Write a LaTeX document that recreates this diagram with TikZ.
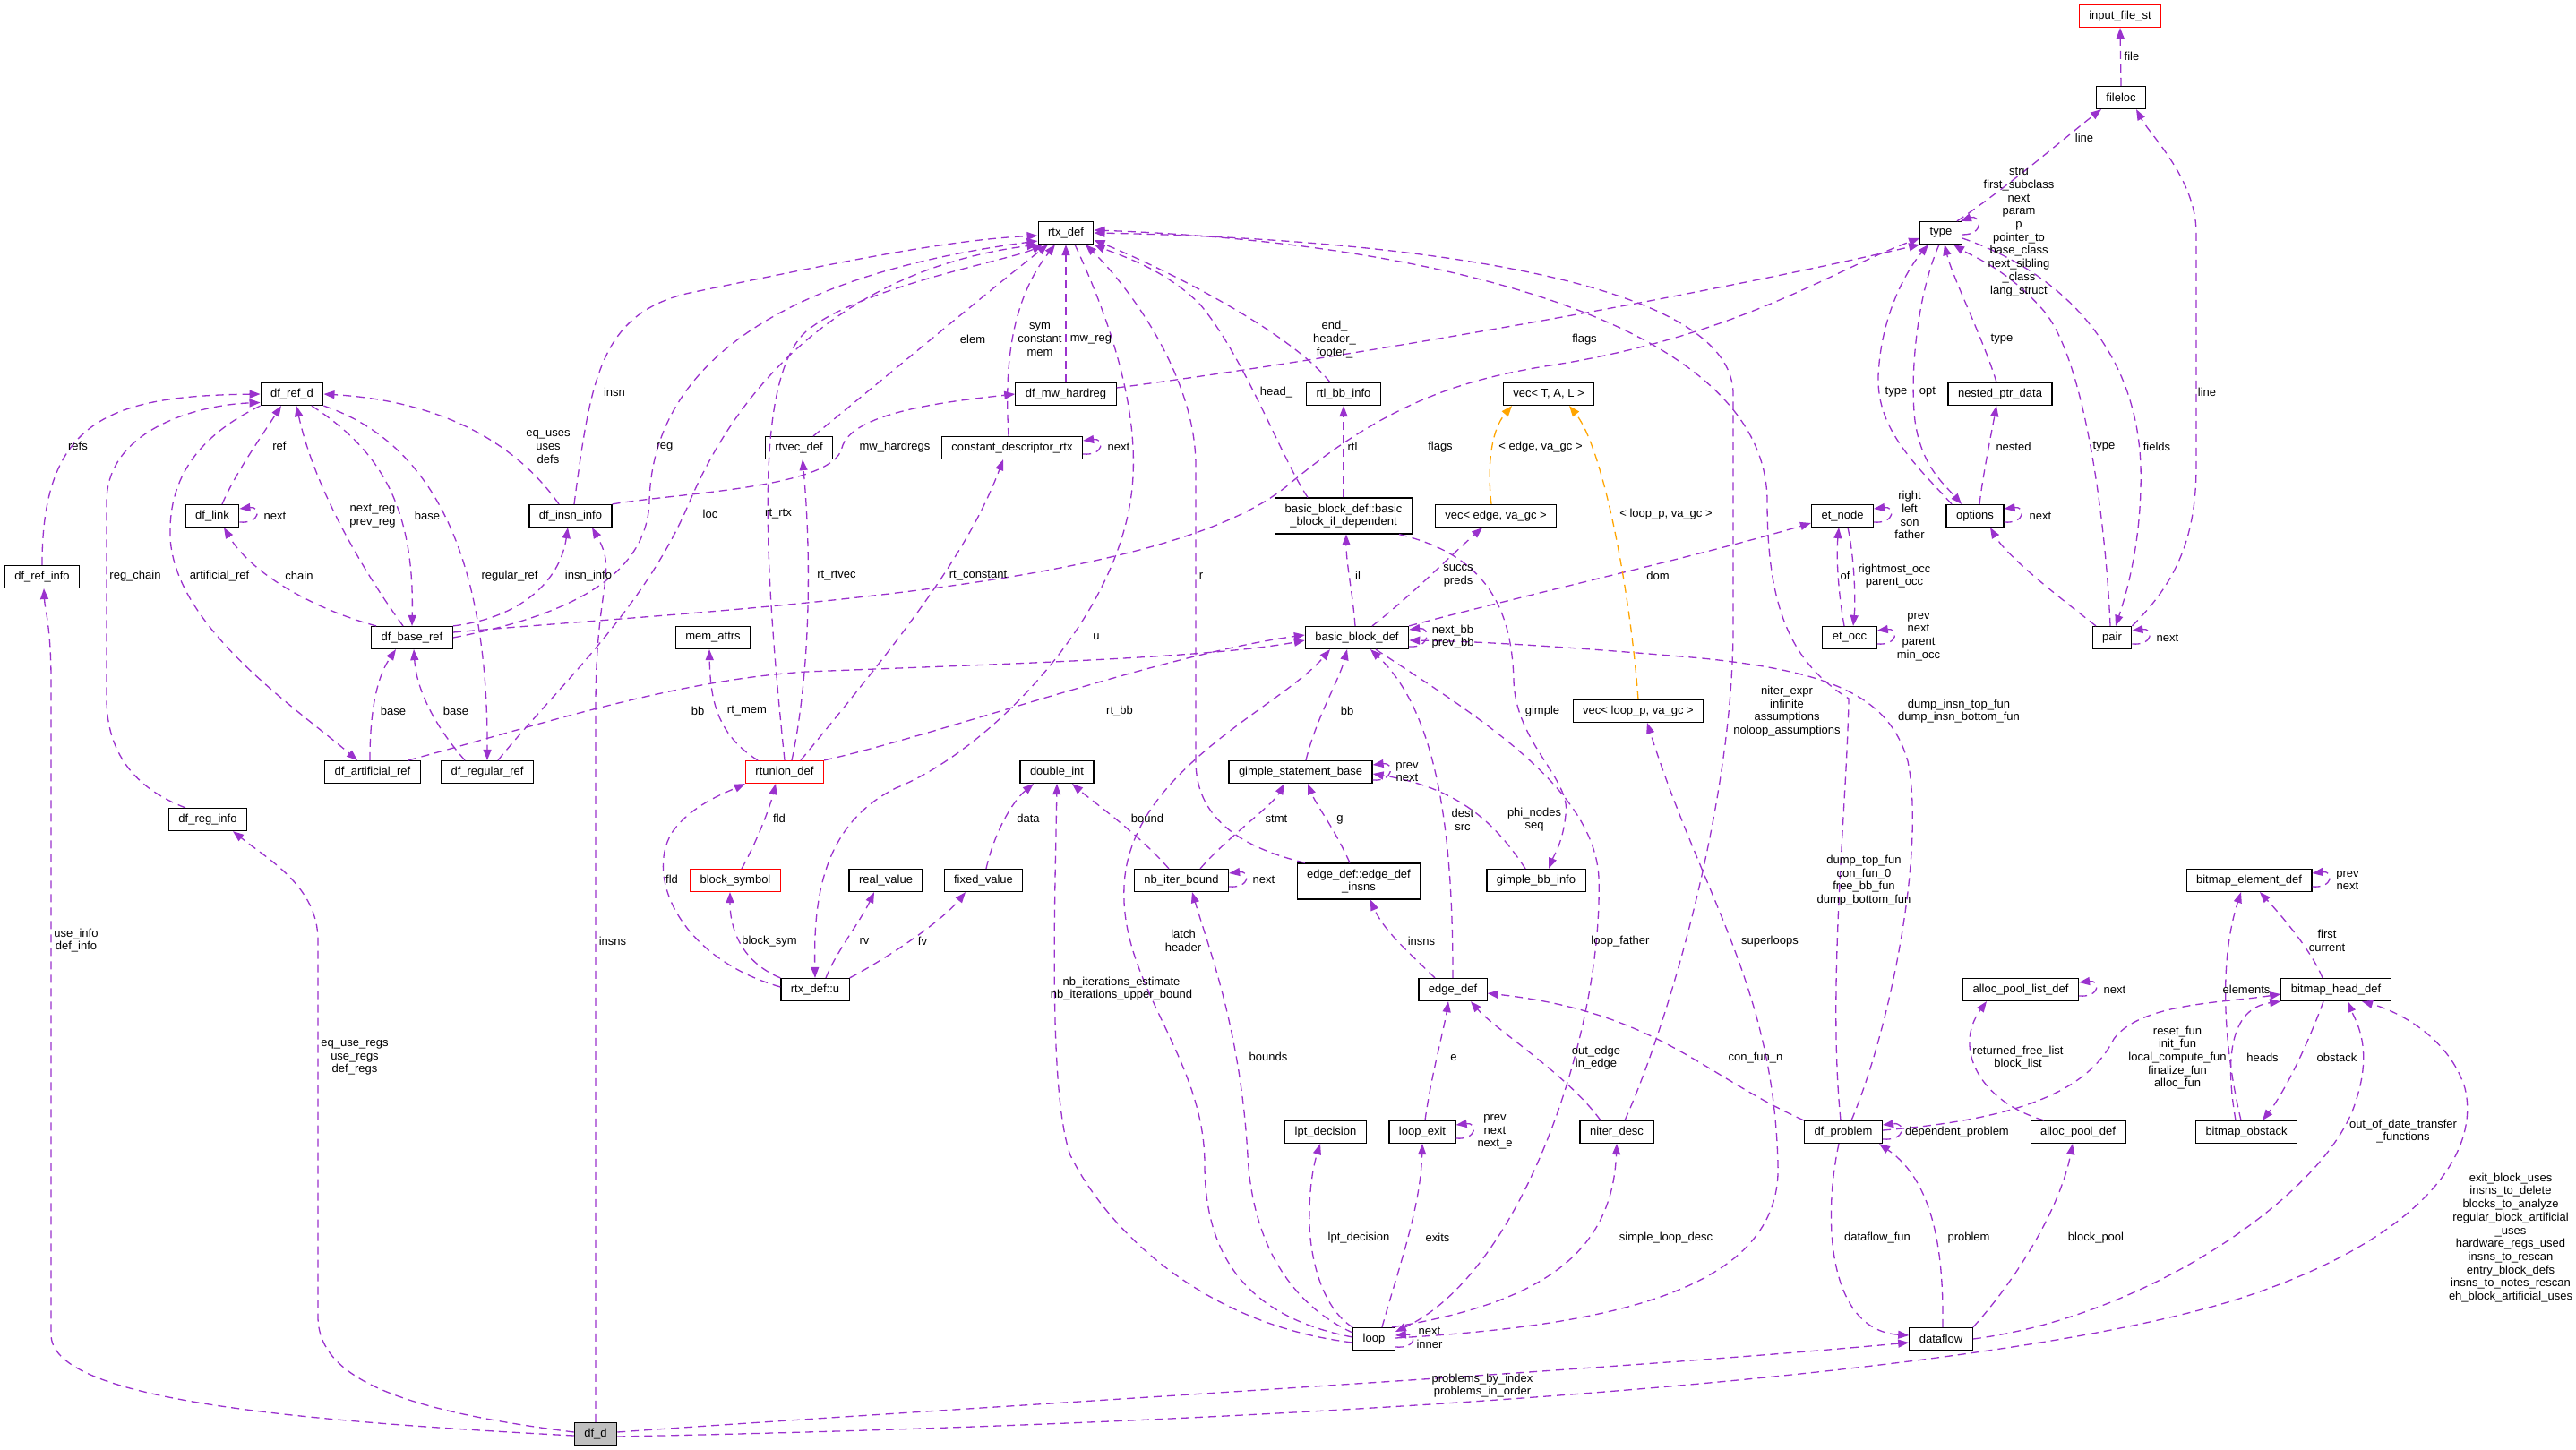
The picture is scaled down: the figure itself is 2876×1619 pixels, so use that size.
\documentclass[tikz,border=0pt]{standalone}
\usepackage{fontspec}
\setmainfont{Liberation Sans}
\usetikzlibrary{arrows.meta}
\definecolor{dko}{HTML}{9A32CD}
\definecolor{orgc}{HTML}{FFA500}
\definecolor{grc}{HTML}{BFBFBF}
\newcommand{\dxfont}{\fontsize{13}{14.7}\selectfont}
\begin{document}
\begin{tikzpicture}[x=1pt,y=-1pt,
 box/.style={draw=black, line width=1.2pt, fill=white, inner xsep=11pt, inner ysep=0pt, minimum height=25pt, font=\dxfont, align=center},
 redbox/.style={box, draw=red},
 lbl/.style={font=\dxfont, align=center, inner sep=0pt},
 e/.style={draw=dko, line width=1.3pt, dash pattern=on 9pt off 6pt, -{Triangle[length=12pt,width=9pt]}},
 eo/.style={e, draw=orgc}]
\fill[white] (0,0) rectangle (2876,1619);
\useasboundingbox (0,0) rectangle (2876,1619);
% nodes
\node[redbox] (input) at (2367,18) {input\_file\_st};
\node[box] (fileloc) at (2368,109) {fileloc};
\node[box] (rtx) at (1190,260) {rtx\_def};
\node[box] (type) at (2167,260) {type};
\node[box] (dfrefd) at (326,440) {df\_ref\_d};
\node[box] (mwh) at (1190,440) {df\_mw\_hardreg};
\node[box] (rtlbb) at (1500,440) {rtl\_bb\_info};
\node[box] (vecT) at (1729,440) {vec< T, A, L >};
\node[box] (nested) at (2233,440) {nested\_ptr\_data};
\node[box] (rtvec) at (892,500) {rtvec\_def};
\node[box] (cdr) at (1130,500) {constant\_descriptor\_rtx};
\node[box] (dflink) at (237,576) {df\_link};
\node[box] (insninfo) at (637,576) {df\_insn\_info};
\node[box, minimum height=40pt] (bbil) at (1500,576) {basic\_block\_def::basic\\\_block\_il\_dependent};
\node[box] (vecedge) at (1670,576) {vec< edge, va\_gc >};
\node[box] (etnode) at (2057,576) {et\_node};
\node[box] (options) at (2205,576) {options};
\node[box] (refinfo) at (47,644) {df\_ref\_info};
\node[box] (baseref) at (460,712) {df\_base\_ref};
\node[box] (memattrs) at (796,712) {mem\_attrs};
\node[box] (bb) at (1515,712) {basic\_block\_def};
\node[box] (etocc) at (2065,712) {et\_occ};
\node[box] (pair) at (2358,712) {pair};
\node[box] (veclp) at (1829,794) {vec< loop\_p, va\_gc >};
\node[box] (artref) at (416,862) {df\_artificial\_ref};
\node[box] (regref) at (544,862) {df\_regular\_ref};
\node[redbox] (rtunion) at (876,862) {rtunion\_def};
\node[box] (dint) at (1180,862) {double\_int};
\node[box] (gsb) at (1452,862) {gimple\_statement\_base};
\node[box] (reginfo) at (232,915) {df\_reg\_info};
\node[redbox] (blocksym) at (821,983) {block\_symbol};
\node[box] (realv) at (989,983) {real\_value};
\node[box] (fixedv) at (1098,983) {fixed\_value};
\node[box] (nbiter) at (1319,983) {nb\_iter\_bound};
\node[box, minimum height=40pt] (edi) at (1517,984) {edge\_def::edge\_def\\\_insns};
\node[box] (gbbinfo) at (1715,983) {gimple\_bb\_info};
\node[box] (bmelem) at (2511,983) {bitmap\_element\_def};
\node[box] (rtxu) at (910,1105) {rtx\_def::u};
\node[box] (edgedef) at (1622,1105) {edge\_def};
\node[box] (aplist) at (2256,1105) {alloc\_pool\_list\_def};
\node[box] (bmhead) at (2608,1105) {bitmap\_head\_def};
\node[box] (lpt) at (1480,1264) {lpt\_decision};
\node[box] (lexit) at (1588,1264) {loop\_exit};
\node[box] (niter) at (1805,1264) {niter\_desc};
\node[box] (dfprob) at (2058,1264) {df\_problem};
\node[box] (apdef) at (2320,1264) {alloc\_pool\_def};
\node[box] (bmobst) at (2508,1264) {bitmap\_obstack};
\node[box] (loop) at (1534,1495) {loop};
\node[box] (dataflow) at (2167,1495) {dataflow};
\node[box, fill=grc] (dfd) at (665,1601) {df\_d};
% edges around df_ref_d
\draw[e] (refinfo.north) .. controls (47,470) and (120,442) .. (dfrefd.west);
\draw[e] ([xshift=-25pt]reginfo.north) .. controls (150,880) and (119,840) .. (119,780) -- (119,560) .. controls (119,480) and (220,452) .. (dfrefd.-165);
\draw[e] (dfrefd.south west) .. controls (215,490) and (188,540) .. (190,600) .. controls (195,700) and (330,790) .. ([xshift=-17pt]artref.north);
\draw[e] ([xshift=11pt]dflink.north) .. controls (262,530) and (290,490) .. ([xshift=-12pt]dfrefd.south);
\draw[e] ([yshift=-7pt]dflink.east) .. controls +(24,2) and +(24,-3) .. ([yshift=8pt]dflink.east);
\draw[e] ([xshift=-10pt]baseref.north) .. controls (400,630) and (350,540) .. ([xshift=5pt]dfrefd.south);
\draw[e] ([xshift=22pt]dfrefd.south) .. controls (420,500) and (463,560) .. (baseref.north);
\draw[e] (dfrefd.south east) .. controls (470,490) and (545,600) .. (regref.north);
\draw[e] ([xshift=-13pt]insninfo.north) .. controls (580,500) and (500,448) .. (dfrefd.east);
\draw[e] ([xshift=-40pt]baseref.north) .. controls (350,680) and (280,640) .. ([xshift=13pt]dflink.south);
\draw[e] (baseref.north east) .. controls (580,690) and (625,650) .. ([xshift=-3pt]insninfo.south);
\draw[e] ([xshift=-3pt]artref.north) .. controls (413,780) and (425,750) .. ([xshift=-18pt]baseref.south);
\draw[e] ([xshift=-25pt]regref.north) .. controls (485,810) and (465,770) .. ([xshift=2pt]baseref.south);
% to rtx_def
\draw[e] ([xshift=4pt]insninfo.north) .. controls (660,420) and (670,345) .. (780,325) .. controls (950,290) and (1060,268) .. ([yshift=-3pt]rtx.west);
\draw[e] (insninfo.north east) .. controls (760,550) and (930,545) .. (940,500) .. controls (950,460) and (1060,448) .. (mwh.west);
\draw[e] (baseref.east) .. controls (620,690) and (722,650) .. (725,560) .. controls (728,420) and (850,310) .. ([yshift=-9pt]rtx.west);
\draw[e] ([xshift=12pt]regref.north) .. controls (620,770) and (720,680) .. (770,560) .. controls (830,420) and (950,300) .. (rtx.south west);
\draw[e] ([xshift=40pt]artref.north) .. controls (600,810) and (750,760) .. (900,750) .. controls (1100,742) and (1350,735) .. ([yshift=-3pt]bb.west);
\draw[e] (rtunion.north east) .. controls (1050,820) and (1300,730) .. ([yshift=3pt]bb.west);
\draw[e] ([xshift=-30pt]rtunion.north) .. controls (800,820) and (793,780) .. ([xshift=-4pt]memattrs.south);
\draw[e] (rtunion.north) .. controls (850,600) and (845,420) .. (900,370) .. controls (960,320) and (1130,290) .. ([xshift=-26pt]rtx.south);
\draw[e] ([xshift=8pt]rtunion.north) .. controls (905,750) and (906,620) .. ([xshift=4pt]rtvec.south);
\draw[e] ([xshift=18pt]rtunion.north) .. controls (1000,720) and (1080,620) .. ([xshift=-10pt]cdr.south);
\draw[e] ([xshift=10pt]rtx.south) .. controls (1250,380) and (1275,480) .. (1262,560) .. controls (1240,700) and (1100,840) .. (1000,880) .. controls (920,920) and (908,1000) .. (rtxu.north);
\draw[e] ([yshift=3pt]rtxu.west) .. controls (760,1070) and (720,980) .. (750,930) .. controls (770,900) and (810,885) .. (rtunion.south west);
\draw[e] (rtxu.north west) .. controls (830,1075) and (815,1040) .. ([xshift=-6pt]blocksym.south);
\draw[e] ([xshift=12pt]rtxu.north) .. controls (935,1060) and (960,1030) .. ([xshift=-13pt]realv.south);
\draw[e] (rtxu.north east) .. controls (990,1070) and (1050,1030) .. ([xshift=-20pt]fixedv.south);
\draw[e] ([xshift=7pt]blocksym.north) .. controls (845,940) and (860,900) .. ([xshift=-10pt]rtunion.south);
\draw[e] ([xshift=3pt]fixedv.north) .. controls (1110,930) and (1130,895) .. ([xshift=-26pt]dint.south);
\draw[e] ([xshift=-14pt]nbiter.north) .. controls (1270,930) and (1220,895) .. ([xshift=17pt]dint.south);
\draw[e] ([xshift=21pt]nbiter.north) .. controls (1370,935) and (1420,900) .. ([xshift=-18pt]gsb.south);
\draw[e] ([yshift=-7pt]nbiter.east) .. controls +(24,2) and +(24,-3) .. ([yshift=8pt]nbiter.east);
\draw[e] ([yshift=-4pt]loop.west) .. controls (1350,1480) and (1240,1380) .. (1195,1290) .. controls (1170,1220) and (1178,1000) .. (dint.south);
\draw[e] ([yshift=7pt]loop.west) .. controls (1470,1470) and (1400,1420) .. (1393,1290) .. controls (1385,1150) and (1350,1060) .. ([xshift=12pt]nbiter.south);
\draw[e] ([yshift=2pt]loop.west) .. controls (1390,1470) and (1345,1400) .. (1345,1300) .. controls (1345,1180) and (1250,1100) .. (1255,990) .. controls (1260,860) and (1430,790) .. ([xshift=-30pt]bb.south);
\draw[e] ([xshift=-60pt]edi.north) .. controls (1380,945) and (1335,910) .. (1335,850) -- (1335,520) .. controls (1335,420) and (1260,320) .. ([xshift=22pt]rtx.south);
\draw[e] ([xshift=-10pt]edi.north) .. controls (1490,925) and (1470,900) .. ([xshift=8pt]gsb.south);
\draw[e] ([xshift=-20pt]edgedef.north) .. controls (1580,1070) and (1545,1040) .. ([xshift=13pt]edi.south);
\draw[e] ([xshift=6pt]gsb.north) .. controls (1470,800) and (1495,760) .. ([xshift=-11pt]bb.south);
\draw[e] ([yshift=-9pt]gsb.east) .. controls +(24,2) and +(24,-3) .. ([yshift=8pt]gsb.east);
\draw[e] ([xshift=-12pt]gbbinfo.north) .. controls (1670,920) and (1630,880) .. ([yshift=-2pt]gsb.east);
\draw[e] ([xshift=62pt]bbil.south) .. controls (1660,620) and (1688,680) .. (1690,760) .. controls (1692,830) and (1755,870) .. (1748,910) .. controls (1745,940) and (1735,955) .. ([xshift=14pt]gbbinfo.north);
\draw[e] ([xshift=-2pt]bb.north) .. controls (1510,660) and (1503,630) .. ([xshift=3pt]bbil.south);
\draw[e] (bbil.north) -- (rtlbb.south);
\draw[e] ([xshift=-15pt]rtlbb.north) .. controls (1440,370) and (1300,300) .. ([yshift=-8pt]rtx.east);
\draw[e] ([xshift=-40pt]bbil.north) .. controls (1430,510) and (1390,400) .. (1340,340) .. controls (1300,300) and (1250,285) .. (rtx.south east);
\draw[e] ([xshift=17pt]bb.north) .. controls (1570,670) and (1620,620) .. ([xshift=-15pt]vecedge.south);
\draw[e] (bb.north east) .. controls (1700,665) and (1900,620) .. ([yshift=-8pt]etnode.west);
\draw[e] ([yshift=-10pt]bb.east) .. controls +(24,2) and +(24,-3) .. ([yshift=9pt]bb.east);
\draw[e] ([xshift=21pt]bb.south) .. controls (1650,800) and (1780,880) .. (1785,980) .. controls (1790,1150) and (1700,1420) .. ([yshift=8pt]loop.east);
\draw[e] (edgedef.north) .. controls (1622,950) and (1610,800) .. ([xshift=15pt]bb.south);
\draw[e] ([xshift=3pt]lexit.north) .. controls (1598,1200) and (1612,1150) .. ([xshift=-5pt]edgedef.south);
\draw[e] ([yshift=-7pt]lexit.east) .. controls +(24,2) and +(24,-3) .. ([yshift=8pt]lexit.east);
\draw[e] ([xshift=-18pt]niter.north) .. controls (1750,1200) and (1670,1150) .. ([xshift=20pt]edgedef.south);
\draw[e] ([xshift=9pt]niter.north) .. controls (1860,1150) and (1935,900) .. (1935,700) -- (1935,440) .. controls (1935,300) and (1500,265) .. (rtx.east);
\draw[e] ([xshift=-3pt]dfprob.north) .. controls (2040,1100) and (2062,900) .. (2064,780) .. controls (2000,740) and (1973,680) .. (1973,560) .. controls (1973,360) and (1600,270) .. ([yshift=3pt]rtx.east);
\draw[e] ([xshift=9pt]dfprob.north) .. controls (2110,1150) and (2150,950) .. (2130,850) .. controls (2110,780) and (2050,750) .. (1900,735) .. controls (1750,722) and (1650,716) .. ([yshift=-3pt]bb.east);
\draw[e] (dfprob.north west) .. controls (1900,1200) and (1850,1130) .. ([yshift=-4pt]edgedef.east);
\draw[e] ([yshift=-8pt]dfprob.east) .. controls +(26,2) and +(26,-3) .. ([yshift=8pt]dfprob.east);
\draw[e] ([yshift=2pt]dfprob.east) .. controls (2250,1250) and (2330,1220) .. (2360,1160) .. controls (2390,1120) and (2480,1120) .. ([yshift=-5pt]bmhead.west);
\draw[e] ([xshift=2pt]dataflow.north) .. controls (2170,1400) and (2160,1320) .. ([xshift=40pt]dfprob.south);
\draw[e] ([xshift=-5pt]dfprob.south) .. controls (2035,1360) and (2040,1485) .. ([yshift=4pt]dataflow.west);
\draw[e] (dataflow.north east) .. controls (2250,1430) and (2300,1350) .. ([xshift=-6pt]apdef.south);
\draw[e] ([xshift=-38pt]apdef.north) .. controls (2210,1230) and (2180,1170) .. ([xshift=-38pt]aplist.south);
\draw[e] ([yshift=-7pt]aplist.east) .. controls +(24,2) and +(24,-3) .. ([yshift=8pt]aplist.east);
\draw[e] (dataflow.east) .. controls (2400,1470) and (2600,1330) .. (2630,1230) .. controls (2650,1170) and (2630,1140) .. ([xshift=13pt]bmhead.south);
\draw[e] ([xshift=-6pt]bmobst.north) .. controls (2485,1180) and (2475,1080) .. ([xshift=-9pt]bmelem.south);
\draw[e] ([xshift=-12pt]bmobst.north) .. controls (2482,1170) and (2495,1125) .. (bmhead.south west);
\draw[e] ([xshift=-14pt]bmhead.south) .. controls (2575,1170) and (2550,1220) .. ([xshift=18pt]bmobst.north);
\draw[e] ([xshift=-15pt]bmhead.north) .. controls (2580,1060) and (2545,1020) .. ([xshift=12pt]bmelem.south);
\draw[e] ([yshift=-7pt]bmelem.east) .. controls +(24,2) and +(24,-3) .. ([yshift=8pt]bmelem.east);
% from df_d
\draw[e] ([yshift=-3pt]dfd.east) .. controls (1400,1590) and (2200,1545) .. (2500,1450) .. controls (2700,1385) and (2770,1290) .. (2752,1215) .. controls (2735,1160) and (2680,1130) .. ([xshift=29pt]bmhead.south);
\draw[e] ([yshift=2pt]dfd.east) .. controls (1100,1570) and (1800,1530) .. ([yshift=-4pt]dataflow.west);
\draw[e] (dfd.north) -- (665,790) .. controls (665,650) and (690,640) .. ([xshift=24pt]insninfo.south);
\draw[e] ([yshift=2pt]dfd.west) .. controls (450,1575) and (355,1540) .. (355,1470) -- (355,1050) .. controls (355,990) and (300,960) .. ([xshift=28pt]reginfo.south);
\draw[e] ([yshift=-2pt]dfd.west) .. controls (300,1585) and (57,1560) .. (57,1490) -- (57,760) .. controls (57,700) and (50,680) .. ([xshift=2pt]refinfo.south);
% type area
\draw[e] ([yshift=7pt]mwh.east) .. controls (1500,400) and (1900,330) .. (type.south west);
\draw[e] ([yshift=6pt]baseref.east) .. controls (800,680) and (1300,660) .. (1440,540) .. controls (1560,440) and (1650,420) .. (1750,405) .. controls (1950,370) and (2050,300) .. ([yshift=-6pt]type.west);
\draw[e] ([xshift=-26pt]options.north) .. controls (2140,520) and (2095,480) .. (2097,420) .. controls (2100,350) and (2130,300) .. ([xshift=-14pt]type.south);
\draw[e] ([xshift=-2pt]type.south) .. controls (2140,330) and (2132,420) .. (2138,470) .. controls (2145,520) and (2170,540) .. ([xshift=-15pt]options.north);
\draw[e] ([xshift=-4pt]nested.north) .. controls (2215,380) and (2180,310) .. ([xshift=4pt]type.south);
\draw[e] ([xshift=5pt]options.north) .. controls (2214,530) and (2222,490) .. ([xshift=-4pt]nested.south);
\draw[e] ([yshift=-7pt]options.east) .. controls +(24,2) and +(24,-3) .. ([yshift=8pt]options.east);
\draw[e] ([xshift=-2pt]pair.north) .. controls (2352,600) and (2330,400) .. (2280,345) .. controls (2240,300) and (2200,285) .. ([xshift=14pt]type.south);
\draw[e] ([yshift=-6pt]type.east) .. controls (2290,300) and (2385,380) .. (2390,520) .. controls (2392,600) and (2375,660) .. ([xshift=4pt]pair.north);
\draw[e] ([xshift=-18pt]pair.north) .. controls (2290,660) and (2240,620) .. ([xshift=17pt]options.south);
\draw[e] (pair.north east) .. controls (2430,650) and (2452,600) .. (2452,520) -- (2452,260) .. controls (2452,200) and (2400,150) .. ([xshift=17pt]fileloc.south);
\draw[e] ([yshift=-7pt]pair.east) .. controls +(24,2) and +(24,-3) .. ([yshift=8pt]pair.east);
\draw[e] ([xshift=-6pt]type.north east) .. controls (2240,210) and (2310,150) .. ([xshift=-22pt]fileloc.south);
\draw[e] ([yshift=-2pt]type.east) .. controls +(26,0) and +(22,-8) .. ([xshift=-2pt]type.north east);
\draw[e] (fileloc.north) -- (input.south);
% et
\draw[e] ([yshift=-7pt]etnode.east) .. controls +(24,2) and +(24,-3) .. ([yshift=8pt]etnode.east);
\draw[e] ([xshift=-6pt]etocc.north) .. controls (2052,660) and (2050,620) .. ([xshift=-4pt]etnode.south);
\draw[e] ([xshift=6pt]etnode.south) .. controls (2070,620) and (2072,670) .. ([xshift=4pt]etocc.north);
\draw[e] ([yshift=-7pt]etocc.east) .. controls +(24,2) and +(24,-3) .. ([yshift=8pt]etocc.east);
% vec
\draw[eo] ([xshift=-5pt]vecedge.north) .. controls (1660,520) and (1665,480) .. ([xshift=-41pt]vecT.south);
\draw[eo] (veclp.north) .. controls (1820,660) and (1790,500) .. ([xshift=23pt]vecT.south);
% loop
\draw[e] ([yshift=1pt]loop.east) .. controls (1800,1480) and (1990,1440) .. (1985,1300) .. controls (1980,1100) and (1900,1000) .. ([xshift=10pt]veclp.south);
\draw[e] (loop.north west) .. controls (1475,1460) and (1460,1400) .. (1462,1350) .. controls (1463,1310) and (1470,1290) .. ([xshift=-6pt]lpt.south);
\draw[e] ([xshift=9pt]loop.north) .. controls (1560,1420) and (1586,1350) .. (lexit.south);
\draw[e] ([xshift=-4pt]loop.north east) .. controls (1720,1455) and (1800,1400) .. (niter.south);
\draw[e] ([yshift=-9pt]loop.east) .. controls +(24,2) and +(24,-2) .. ([yshift=4pt]loop.east);
% cdr, rtvec, mwh
\draw[e] ([yshift=-7pt]cdr.east) .. controls +(24,2) and +(24,-3) .. ([yshift=8pt]cdr.east);
\draw[e] ([xshift=-4pt]cdr.north) .. controls (1122,420) and (1125,340) .. ([xshift=-12pt]rtx.south);
\draw[e] ([xshift=16pt]rtvec.north) .. controls (990,420) and (1110,320) .. ([xshift=-20pt]rtx.south);
\draw[e] (mwh.north) -- (rtx.south);
% labels
\node[lbl] (t1) at (87,498) {refs};
\node[lbl] (t2) at (151,643) {reg\_chain};
\node[lbl] (t3) at (245,643) {artificial\_ref};
\node[lbl] (t4) at (312,498) {ref};
\node[lbl] (t5) at (307,576) {next};
\node[lbl] (t6) at (416,576) {next\_reg\\prev\_reg};
\node[lbl] (t7) at (477,576) {base};
\node[lbl] (t8) at (569,643) {regular\_ref};
\node[lbl] (t9) at (612,499) {eq\_uses\\uses\\defs};
\node[lbl] (t10) at (334,643) {chain};
\node[lbl] (t11) at (657,643) {insn\_info};
\node[lbl] (t12) at (439,794) {base};
\node[lbl] (t13) at (509,794) {base};
\node[lbl] (t14) at (686,438) {insn};
\node[lbl] (t15) at (999,499) {mw\_hardregs};
\node[lbl] (t16) at (742,499) {reg};
\node[lbl] (t17) at (793,574) {loc};
\node[lbl] (t18) at (779,794) {bb};
\node[lbl] (t19) at (1250,794) {rt\_bb};
\node[lbl] (t20) at (834,794) {rt\_mem};
\node[lbl] (t21) at (869,574) {rt\_rtx};
\node[lbl] (t22) at (934,643) {rt\_rtvec};
\node[lbl] (t23) at (1092,643) {rt\_constant};
\node[lbl] (t24) at (1224,711) {u};
\node[lbl] (t25) at (750,982) {fld};
\node[lbl] (t26) at (859,1051) {block\_sym};
\node[lbl] (t27) at (965,1051) {rv};
\node[lbl] (t28) at (1030,1051) {fv};
\node[lbl] (t29) at (870,914) {fld};
\node[lbl] (t30) at (1148,914) {data};
\node[lbl] (t31) at (1281,914) {bound};
\node[lbl] (t32) at (1425,914) {stmt};
\node[lbl] (t33) at (1411,982) {next};
\node[lbl] (t34) at (1252,1104) {nb\_iterations\_estimate\\nb\_iterations\_upper\_bound};
\node[lbl] (t35) at (1416,1180) {bounds};
\node[lbl] (t36) at (1321,1050) {latch\\header};
\node[lbl] (t37) at (1341,643) {r};
\node[lbl] (t38) at (1496,915) {g};
\node[lbl] (t39) at (1587,1051) {insns};
\node[lbl] (t40) at (1504,794) {bb};
\node[lbl] (t41) at (1571,862) {prev\\next};
\node[lbl] (t42) at (1713,915) {phi\_nodes\\seq};
\node[lbl] (t43) at (1722,794) {gimple};
\node[lbl] (t44) at (1516,643) {il};
\node[lbl] (t45) at (1510,499) {rtl};
\node[lbl] (t46) at (1490,379) {end\_\\header\_\\footer\_};
\node[lbl] (t47) at (1425,438) {head\_};
\node[lbl] (t48) at (1628,643) {succs\\preds};
\node[lbl] (t49) at (1851,643) {dom};
\node[lbl] (t50) at (1622,711) {next\_bb\\prev\_bb};
\node[lbl] (t51) at (1809,1051) {loop\_father};
\node[lbl] (t52) at (1633,915) {dest\\src};
\node[lbl] (t53) at (1623,1181) {e};
\node[lbl] (t54) at (1669,1264) {prev\\next\\next\_e};
\node[lbl] (t55) at (1782,1181) {out\_edge\\in\_edge};
\node[lbl] (t56) at (1995,794) {niter\_expr\\infinite\\assumptions\\noloop\_assumptions};
\node[lbl] (t57) at (2187,794) {dump\_insn\_top\_fun\\dump\_insn\_bottom\_fun};
\node[lbl] (t58) at (2081,983) {dump\_top\_fun\\con\_fun\_0\\free\_bb\_fun\\dump\_bottom\_fun};
\node[lbl] (t59) at (1960,1181) {con\_fun\_n};
\node[lbl] (t60) at (2185,1264) {dependent\_problem};
\node[lbl] (t61) at (2431,1181) {reset\_fun\\init\_fun\\local\_compute\_fun\\finalize\_fun\\alloc\_fun};
\node[lbl] (t62) at (2198,1382) {problem};
\node[lbl] (t63) at (2096,1382) {dataflow\_fun};
\node[lbl] (t64) at (2340,1382) {block\_pool};
\node[lbl] (t65) at (2253,1181) {returned\_free\_list\\block\_list};
\node[lbl] (t66) at (2361,1105) {next};
\node[lbl] (t67) at (2683,1263) {out\_of\_date\_transfer\\\_functions};
\node[lbl] (t68) at (2508,1105) {elements};
\node[lbl] (t69) at (2526,1181) {heads};
\node[lbl] (t70) at (2609,1181) {obstack};
\node[lbl] (t71) at (2598,1050) {first\\current};
\node[lbl] (t72) at (2621,983) {prev\\next};
\node[lbl] (t73) at (2803,1382) {exit\_block\_uses\\insns\_to\_delete\\blocks\_to\_analyze\\regular\_block\_artificial\\\_uses\\hardware\_regs\_used\\insns\_to\_rescan\\entry\_block\_defs\\insns\_to\_notes\_rescan\\eh\_block\_artificial\_uses};
\node[lbl] (t74) at (1655,1547) {problems\_by\_index\\problems\_in\_order};
\node[lbl] (t75) at (684,1051) {insns};
\node[lbl] (t76) at (396,1181) {eq\_use\_regs\\use\_regs\\def\_regs};
\node[lbl] (t77) at (85,1050) {use\_info\\def\_info};
\node[lbl] (t78) at (1769,379) {flags};
\node[lbl] (t79) at (1608,499) {flags};
\node[lbl] (t80) at (2117,438) {type};
\node[lbl] (t81) at (2152,438) {opt};
\node[lbl] (t82) at (2235,379) {type};
\node[lbl] (t83) at (2248,499) {nested};
\node[lbl] (t84) at (2278,576) {next};
\node[lbl] (t85) at (2349,499) {type};
\node[lbl] (t86) at (2408,499) {fields};
\node[lbl] (t87) at (2464,438) {line};
\node[lbl] (t88) at (2420,712) {next};
\node[lbl] (t89) at (2327,154) {line};
\node[lbl] (t90) at (2254,259) {stru\\first\_subclass\\next\\param\\p\\pointer\_to\\base\_class\\next\_sibling\\\_class\\lang\_struct};
\node[lbl] (t91) at (2380,63) {file};
\node[lbl] (t92) at (2132,575) {right\\left\\son\\father};
\node[lbl] (t93) at (2060,643) {of};
\node[lbl] (t94) at (2115,643) {rightmost\_occ\\parent\_occ};
\node[lbl] (t95) at (2142,711) {prev\\next\\parent\\min\_occ};
\node[lbl] (t96) at (1720,499) {< edge, va\_gc >};
\node[lbl] (t97) at (1860,574) {< loop\_p, va\_gc >};
\node[lbl] (t98) at (1976,1051) {superloops};
\node[lbl] (t99) at (1517,1382) {lpt\_decision};
\node[lbl] (t100) at (1605,1382) {exits};
\node[lbl] (t101) at (1860,1382) {simple\_loop\_desc};
\node[lbl] (t102) at (1596,1494) {next\\inner};
\node[lbl] (t103) at (1249,499) {next};
\node[lbl] (t104) at (1161,379) {sym\\constant\\mem};
\node[lbl] (t105) at (1086,379) {elem};
\node[lbl] (t106) at (1218,379) {mw\_reg};
\end{tikzpicture}
\end{document}
